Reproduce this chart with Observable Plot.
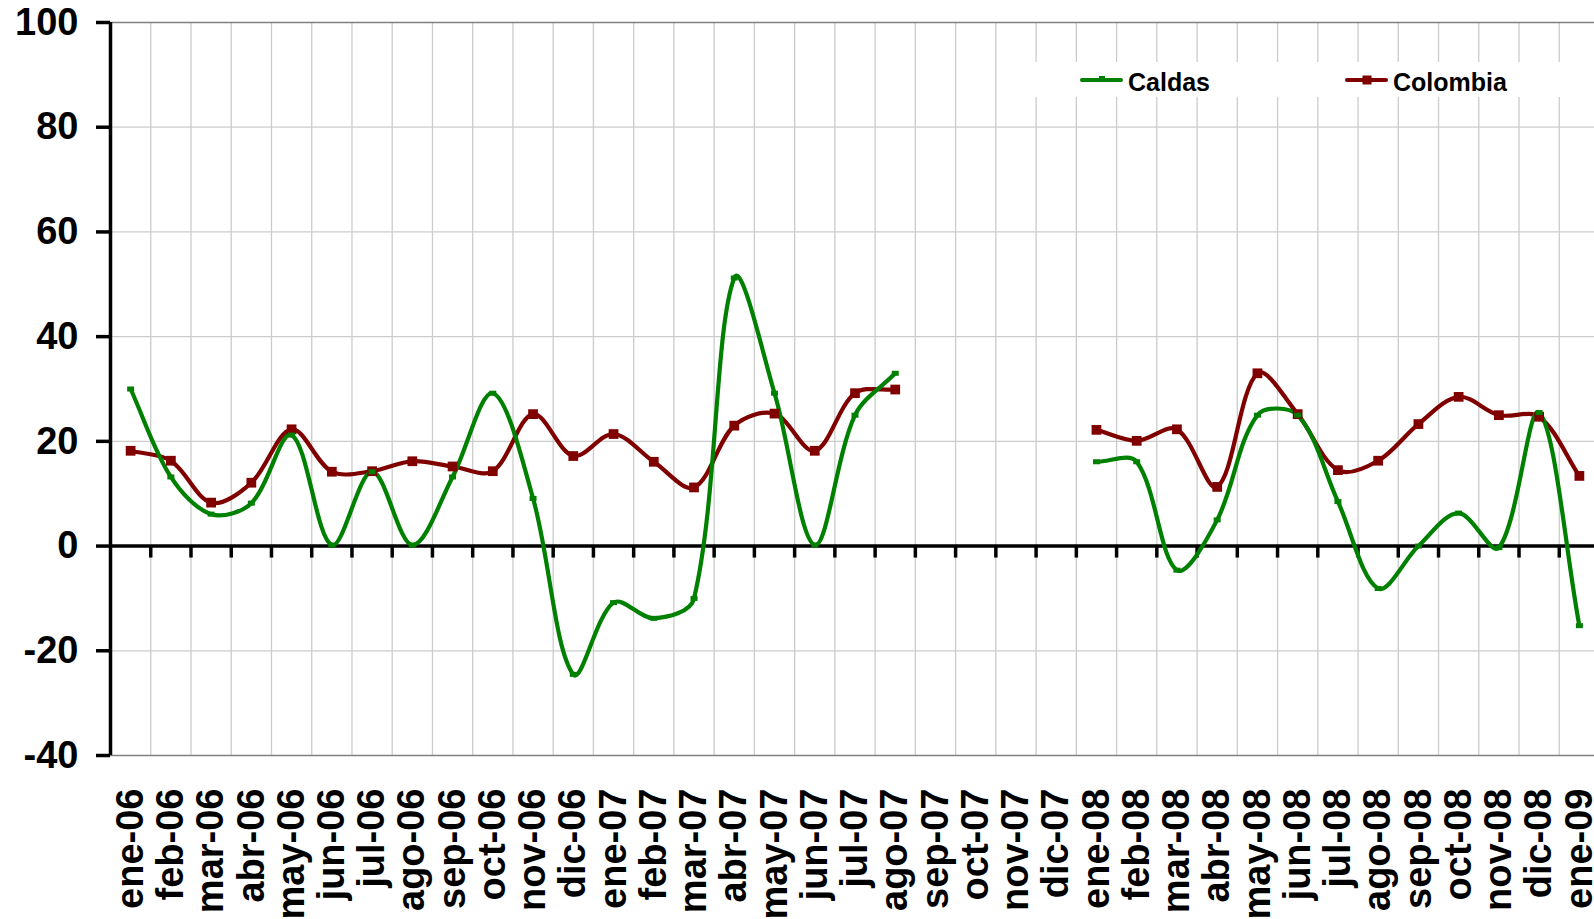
<!DOCTYPE html>
<html><head><meta charset="utf-8">
<script src="https://cdn.jsdelivr.net/npm/d3@7"></script>
<script src="https://cdn.jsdelivr.net/npm/@observablehq/plot@0.6"></script>
<style>
html,body{margin:0;padding:0;overflow:hidden;background:#fff;width:1594px;height:919px}
#wrap{position:relative;width:1594px;height:919px;overflow:hidden}
#wrap svg{overflow:hidden}
g[aria-label="y-axis tick"]{stroke-width:3.5px}
g[aria-label="y-axis"] line{stroke-width:3.5px}
#legend{position:absolute;left:1020px;top:62px;width:560px;height:35px;background:#fff;font:bold 25px "Liberation Sans",Arial,sans-serif;color:#000}
.item{position:absolute;top:0;height:35px;display:flex;align-items:center}
.item span{position:relative;top:3px}
.sw{position:relative;width:43px;height:4px;margin-right:5px;border-radius:2px}
.mk{position:absolute;left:50%;top:50%;transform:translate(-50%,-50%)}
</style></head>
<body><div id="wrap"><div id="chart"></div>
<div id="legend">
  <div class="item" style="left:60px"><div class="sw" style="background:#008000"><div class="mk" style="width:6px;height:6px;margin-top:-1px;background:#008000"></div></div><span>Caldas</span></div>
  <div class="item" style="left:325px"><div class="sw" style="background:#800000"><div class="mk" style="width:9px;height:9px;background:#800000"></div></div><span>Colombia</span></div>
</div></div>
<script>
const months = ["ene-06","feb-06","mar-06","abr-06","may-06","jun-06","jul-06","ago-06","sep-06","oct-06","nov-06","dic-06","ene-07","feb-07","mar-07","abr-07","may-07","jun-07","jul-07","ago-07","sep-07","oct-07","nov-07","dic-07","ene-08","feb-08","mar-08","abr-08","may-08","jun-08","jul-08","ago-08","sep-08","oct-08","nov-08","dic-08","ene-09"];
const caldas = [30.0, 13.2, 6.1, 8.2, 21.2, 0.2, 14.2, 0.2, 13.2, 29.2, 9.1, -24.5, -10.8, -13.8, -10.0, 51.2, 29.2, 0.2, 25.0, 33.0, null, null, null, null, 16.1, 16.1, -4.6, 5.0, 25.0, 25.0, 8.5, -8.1, 0.0, 6.3, -0.3, 25.5, -15.2];
const colombia = [18.2, 16.3, 8.3, 12.1, 22.3, 14.2, 14.3, 16.2, 15.2, 14.3, 25.2, 17.2, 21.4, 16.1, 11.2, 23.0, 25.3, 18.2, 29.2, 29.9, null, null, null, null, 22.2, 20.1, 22.3, 11.3, 33.0, 25.2, 14.5, 16.3, 23.3, 28.5, 25.0, 24.7, 13.4];
const yTicks = [-40, -20, 0, 20, 40, 60, 80, 100];

const rows = months.map((m, i) => ({i, month: m, caldas: caldas[i], colombia: colombia[i]}));
const idx = months.map((_, i) => i);
const bounds = idx.map(i => i + 0.5);
const dash = {draw(ctx) { ctx.moveTo(-3.5, -2.5); ctx.lineTo(3.5, -2.5); ctx.lineTo(3.5, 2.5); ctx.lineTo(-3.5, 2.5); ctx.closePath(); }};

// Spreadsheet-style smoothing: Bezier segments with tangents weighted by neighbouring segment lengths
function smoothCurve(context) {
  let pts = [];
  const dist = (a, b) => Math.hypot(b[0] - a[0], b[1] - a[1]);
  return {
    areaStart() {}, areaEnd() {},
    lineStart() { pts = []; },
    point(x, y) { pts.push([+x, +y]); },
    lineEnd() {
      const n = pts.length;
      if (!n) return;
      context.moveTo(pts[0][0], pts[0][1]);
      for (let i = 0; i < n - 1; i++) {
        const p1 = pts[i], p2 = pts[i + 1];
        const p0 = i > 0 ? pts[i - 1] : p1;
        const p3 = i + 2 < n ? pts[i + 2] : p2;
        const d01 = dist(p0, p1), d12 = dist(p1, p2), d23 = dist(p2, p3);
        const f1 = d12 / ((d01 + d12) || 1) / 3;
        const f2 = d12 / ((d12 + d23) || 1) / 3;
        const c1 = [p1[0] + (p2[0] - p0[0]) * f1, p1[1] + (p2[1] - p0[1]) * f1];
        const c2 = [p2[0] - (p3[0] - p1[0]) * f2, p2[1] - (p3[1] - p1[1]) * f2];
        context.bezierCurveTo(c1[0], c1[1], c2[0], c2[1], p2[0], p2[1]);
      }
    }
  };
}

const chart = Plot.plot({
  width: 1594, height: 919,
  marginTop: 22, marginBottom: 164, marginLeft: 110, marginRight: 0,
  style: {fontFamily: '"Liberation Sans", Arial, sans-serif', fontSize: "38px", fontWeight: "bold", color: "#000", background: "transparent", overflow: "hidden"},
  x: {type: "linear", domain: [-0.5, months.length - 0.5], range: [110, 1599], ticks: idx, tickFormat: i => months[i], tickRotate: -90, tickSize: 0, tickPadding: 33, label: null},
  y: {domain: [-40, 100], ticks: yTicks, tickFormat: d => String(d), tickSize: 14, tickPadding: 18, label: null},
  marks: [
    Plot.ruleX(bounds, {x: d => d, y1: -40, y2: 100, stroke: "#cccccc", strokeWidth: 1.3}),
    Plot.ruleY(yTicks.filter(v => v !== 0 && v !== 100 && v !== -40), {stroke: "#cccccc", strokeWidth: 1.3}),
    Plot.ruleY([100, -40], {stroke: "#808080", strokeWidth: 1.5}),
    Plot.ruleY([0], {stroke: "#000", strokeWidth: 3.5}),
    Plot.ruleX(bounds.slice(0, -1), {x: d => d, y1: 0, y2: 0, insetBottom: -12, stroke: "#000", strokeWidth: 3.5}),
    Plot.ruleX([-0.5], {y1: -40, y2: 100, stroke: "#000", strokeWidth: 3.5}),
    Plot.line(rows, {x: "i", y: "colombia", stroke: "#800000", strokeWidth: 4.2, curve: smoothCurve}),
    Plot.line(rows, {x: "i", y: "caldas", stroke: "#008000", strokeWidth: 4.2, curve: smoothCurve}),
    Plot.dot(rows.filter(d => d.colombia != null), {x: "i", y: "colombia", symbol: "square", r: 5.5, fill: "#800000", stroke: "none"}),
    Plot.dot(rows.filter(d => d.caldas != null), {x: "i", y: "caldas", symbol: dash, r: 4, fill: "#008000", stroke: "none"})
  ]
});
document.getElementById("chart").appendChild(chart);
</script>
</body></html>
